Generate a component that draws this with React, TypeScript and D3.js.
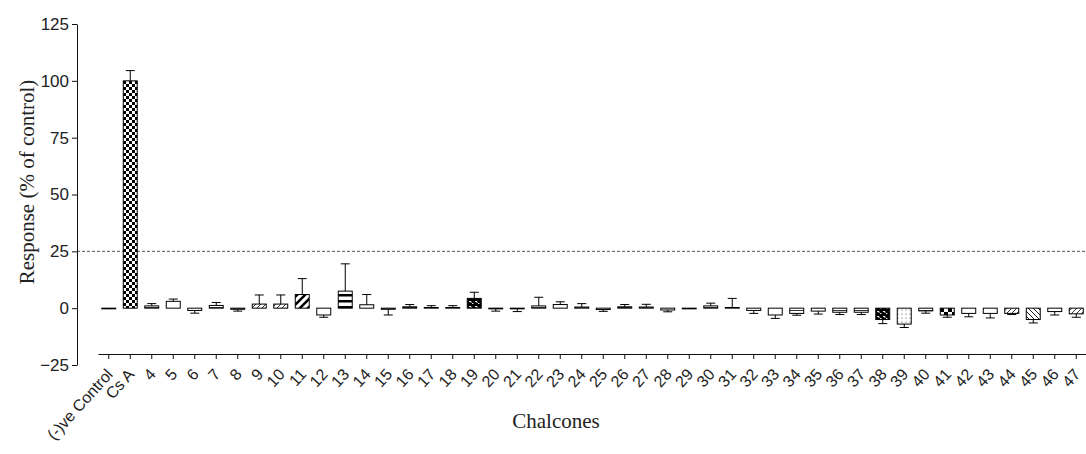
import React, { useEffect, useRef } from 'react';
import * as d3 from 'd3';

// categories along the x axis
const categories = ['(-)ve Control', 'Cs A', '4', '5', '6', '7', '8', '9', '10', '11', '12', '13', '14', '15', '16', '17', '18', '19', '20', '21', '22', '23', '24', '25', '26', '27', '28', '29', '30', '31', '32', '33', '34', '35', '36', '37', '38', '39', '40', '41', '42', '43', '44', '45', '46', '47'];

// mean response (% of control)
const responses = [-0.3, 100, 1, 3, -1, 1.2, -0.5, 1.8, 1.8, 6, -3, 7.5, 1.5, -0.5, 0.6, 0.3, 0.3, 4.3, -0.3, -0.3, 1, 1.6, 0.5, -0.6, 0.6, 0.5, -0.8, -0.3, 1, 0.3, -1, -3, -2.3, -1.3, -1.8, -1.8, -5, -7, -1.2, -3, -2.3, -2.3, -2.3, -5, -1.5, -2.5];

// error bar (SEM), drawn away from zero
const errors = [0, 4.5, 1, 1, 1.2, 1.3, 0.8, 4, 4, 7, 1, 12, 4.5, 2.5, 1, 0.8, 0.8, 2.7, 1, 1.2, 3.8, 1.2, 1.5, 0.8, 1, 1.2, 0.8, 0, 1.2, 4, 1.3, 1.5, 0.8, 1.3, 1, 1, 1.8, 1.5, 1, 1, 1.5, 2, 0.5, 1.5, 1.5, 1.5];

// fill pattern of each bar
const fills = ['none', 'checker', 'hlines', 'none', 'hlines', 'hlines', 'none', 'diag', 'diag', 'diagWide', 'none', 'hbands', 'none', 'none', 'hlines', 'none', 'none', 'brick', 'none', 'none', 'hlines', 'none', 'none', 'hlines', 'hlines', 'none', 'hlines', 'none', 'hlines', 'none', 'none', 'none', 'hlines', 'none', 'hlines', 'hlines', 'brick', 'dots', 'hlines', 'bigChecker', 'none', 'none', 'diag', 'diagBack', 'none', 'diag'];

const yTicks = [-25, 0, 25, 50, 75, 100, 125];
const threshold = 25;

const W = 1086, H = 454;

export default function App() {
    const ref = useRef<SVGSVGElement>(null);

    useEffect(() => {
        const svg = d3.select(ref.current);
        svg.selectAll('*').remove();

        const x = d3.scaleBand().domain(categories).range([98, 1087]).paddingInner(0.35).paddingOuter(0.175);
        const y = d3.scaleLinear().domain([-25, 125]).range([365, 24]);

        // patterns
        const defs = svg.append('defs');
        const pat = (id, w, h) => defs.append('pattern').attr('id', id).attr('patternUnits', 'userSpaceOnUse')
            .attr('width', w).attr('height', h);
        let p = pat('checker', 6, 6);
        p.append('rect').attr('width', 6).attr('height', 6).attr('fill', '#fff');
        p.append('rect').attr('width', 3).attr('height', 3).attr('fill', '#000');
        p.append('rect').attr('x', 3).attr('y', 3).attr('width', 3).attr('height', 3).attr('fill', '#000');
        p = pat('bigChecker', 8, 8);
        p.append('rect').attr('width', 8).attr('height', 8).attr('fill', '#fff');
        p.append('rect').attr('width', 4).attr('height', 4).attr('fill', '#000');
        p.append('rect').attr('x', 4).attr('y', 4).attr('width', 4).attr('height', 4).attr('fill', '#000');
        p = pat('hlines', 4, 3);
        p.append('rect').attr('width', 4).attr('height', 3).attr('fill', '#fff');
        p.append('line').attr('x1', 0).attr('x2', 4).attr('y1', 1.5).attr('y2', 1.5).attr('stroke', '#000').attr('stroke-width', 0.8);
        p = pat('hbands', 6, 6);
        p.append('rect').attr('width', 6).attr('height', 6).attr('fill', '#fff');
        p.append('rect').attr('y', 0).attr('width', 6).attr('height', 2.5).attr('fill', '#000');
        p = pat('diag', 5, 5);
        p.append('rect').attr('width', 5).attr('height', 5).attr('fill', '#fff');
        p.append('path').attr('d', 'M0,5 L5,0 M-1,1 L1,-1 M4,6 L6,4').attr('stroke', '#000').attr('stroke-width', 0.8);
        p = pat('diagBack', 5, 5);
        p.append('rect').attr('width', 5).attr('height', 5).attr('fill', '#fff');
        p.append('path').attr('d', 'M0,0 L5,5 M-1,4 L1,6 M4,-1 L6,1').attr('stroke', '#000').attr('stroke-width', 0.9);
        p = pat('diagWide', 8, 8);
        p.append('rect').attr('width', 8).attr('height', 8).attr('fill', '#fff');
        p.append('path').attr('d', 'M0,8 L8,0 M-2,2 L2,-2 M6,10 L10,6').attr('stroke', '#000').attr('stroke-width', 2.5);
        p = pat('brick', 6, 5);
        p.append('rect').attr('width', 6).attr('height', 5).attr('fill', '#000');
        p.append('path').attr('d', 'M1,1.5 H3 V3 M4,3.5 H5.5').attr('stroke', '#fff').attr('stroke-width', 0.9).attr('fill', 'none');
        p = pat('dots', 4, 4);
        p.append('rect').attr('width', 4).attr('height', 4).attr('fill', '#fff');
        p.append('circle').attr('cx', 2).attr('cy', 2).attr('r', 0.6).attr('fill', '#444');

        // threshold line
        svg.append('line').attr('x1', 77).attr('x2', W).attr('y1', y(threshold)).attr('y2', y(threshold))
            .attr('stroke', '#555').attr('stroke-dasharray', '3,2').attr('stroke-width', 1);

        // y axis
        const gy = svg.append('g').attr('transform', 'translate(77,0)')
            .call(d3.axisLeft(y).tickValues(yTicks).tickSize(5).tickSizeOuter(0).tickPadding(3).tickFormat(d3.format('d')));
        gy.select('.domain').attr('stroke', '#111');
        gy.selectAll('.tick line').attr('stroke', '#111');
        gy.selectAll('text').attr('font-family', 'Liberation Sans, Arial, sans-serif').attr('font-size', 17).attr('fill', '#222');

        // x axis, labels rotated
        const gx = svg.append('g').attr('transform', 'translate(0,354)')
            .call(d3.axisBottom(x).tickSize(5).tickSizeOuter(0).tickFormat(() => ''));
        gx.select('.domain').attr('stroke', '#111');
        gx.selectAll('.tick line').attr('stroke', '#111');
        gx.selectAll('.tick text').remove();

        const lab = svg.append('g');
        categories.forEach(c => {
            const ex = x(c) + x.bandwidth() / 2 + 5;
            lab.append('text')
                .attr('transform', `translate(${ex},375) rotate(-48)`)
                .attr('text-anchor', 'end')
                .attr('font-family', 'Liberation Sans, Arial, sans-serif').attr('font-size', 16).attr('fill', '#222')
                .text(c);
        });

        // bars
        const bars = svg.append('g');
        const data = categories.map((c, i) => ({ c, v: responses[i], e: errors[i], f: fills[i] }));
        bars.selectAll('rect').data(data).join('rect')
            .attr('x', d => x(d.c))
            .attr('width', x.bandwidth())
            .attr('y', d => Math.min(y(d.v), y(0)))
            .attr('height', d => Math.abs(y(d.v) - y(0)))
            .attr('fill', d => d.f === 'none' ? '#fff' : `url(#${d.f})`)
            .attr('stroke', '#000').attr('stroke-width', 1);

        // error bars
        const eb = svg.append('g').attr('stroke', '#000').attr('stroke-width', 1);
        data.filter(d => d.e > 0).forEach(d => {
            const cx = x(d.c) + x.bandwidth() / 2;
            const end = d.v >= 0 ? d.v + d.e : d.v - d.e;
            eb.append('line').attr('x1', cx).attr('x2', cx).attr('y1', y(d.v)).attr('y2', y(end));
            eb.append('line').attr('x1', cx - 4.5).attr('x2', cx + 4.5).attr('y1', y(end)).attr('y2', y(end));
        });

        // titles
        svg.append('text').attr('transform', 'translate(34,182) rotate(-90)').attr('text-anchor', 'middle')
            .attr('font-family', 'Liberation Serif, Times New Roman, serif').attr('font-size', 21).attr('fill', '#222')
            .text('Response (% of control)');
        svg.append('text').attr('x', 556).attr('y', 428).attr('text-anchor', 'middle')
            .attr('font-family', 'Liberation Serif, Times New Roman, serif').attr('font-size', 21).attr('fill', '#222')
            .text('Chalcones');
    }, []);

    return (
        <svg ref={ref} width={W} height={H} style={{ position: 'absolute', left: 0, top: 0, background: '#fff' }}></svg>
    );
}
